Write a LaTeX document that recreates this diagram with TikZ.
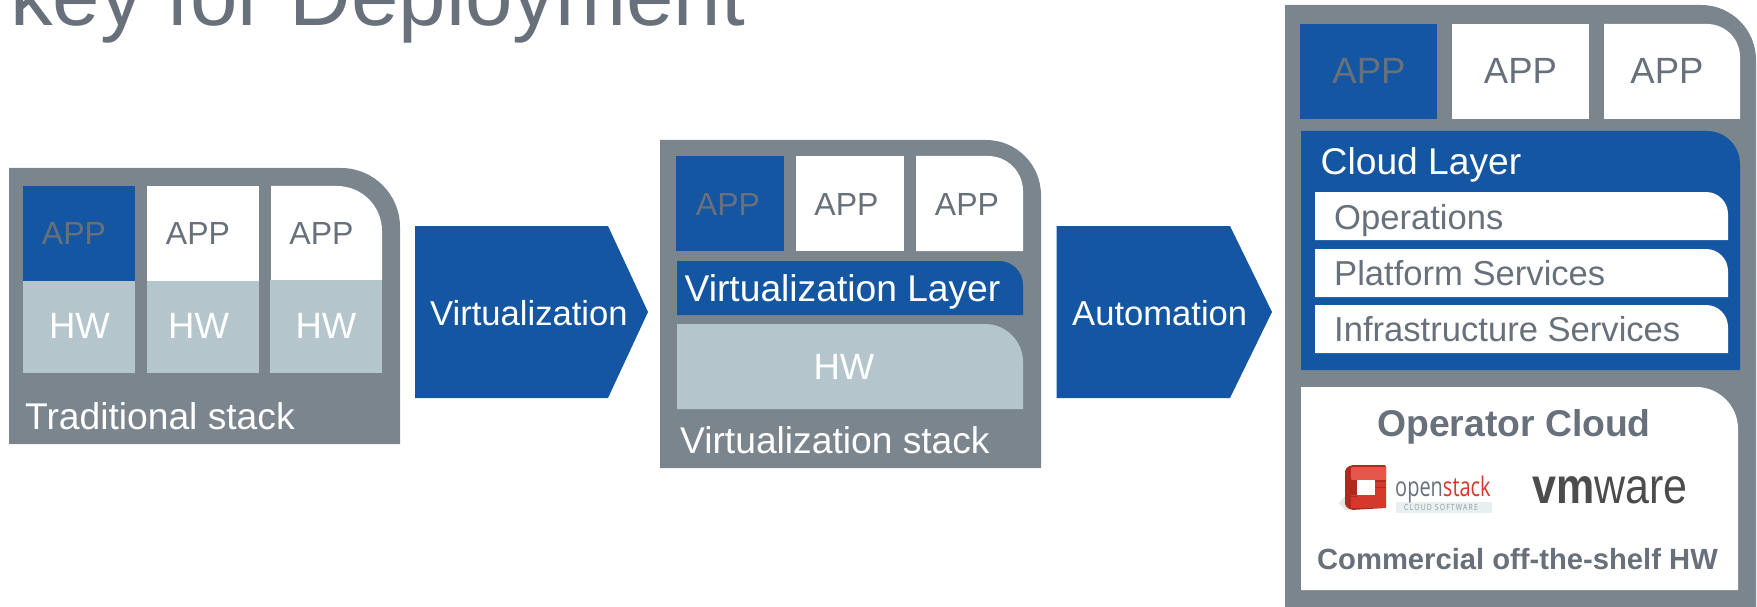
\documentclass[tikz,border=0pt]{standalone}
\usepackage{fontspec}
\setmainfont{Liberation Sans}
\newfontfamily\logofont[FakeStretch=0.74]{Open Sans}
\newfontfamily\tinyfont[FakeStretch=0.8,LetterSpace=14]{Open Sans}
\newfontfamily\wmfont[FakeStretch=0.86]{Liberation Sans}
\definecolor{stackgray}{HTML}{7B858D}
\definecolor{layerblue}{HTML}{1556A2}
\definecolor{hwgray}{HTML}{B4C6CC}
\definecolor{textgray}{HTML}{68717B}
\definecolor{osred}{HTML}{D5392B}
\definecolor{osdark}{HTML}{AE2A1E}
\definecolor{oslight}{HTML}{E4574A}
\definecolor{osstrip}{HTML}{E8EFF1}
\begin{document}
\begin{tikzpicture}[x=1pt,y=-1pt]
\tikzset{label/.style = {anchor=base west,inner sep=0pt,font=\fontsize{37.2}{40}\selectfont}}
\tikzset{white label/.style = {label,text=white}}
\tikzset{gray label/.style = {label,text=textgray,font=\fontsize{34.6}{40}\selectfont}}
\tikzset{app label/.style = {anchor=base,inner sep=0pt,text=textgray,font=\fontsize{32}{40}\selectfont}}
\tikzset{hw label/.style = {anchor=base,inner sep=0pt,text=white,font=\fontsize{36.5}{40}\selectfont}}
\tikzset{bold label/.style = {anchor=base,inner sep=0pt,text=textgray,font=\bfseries\fontsize{37.3}{40}\selectfont}}
\useasboundingbox (0,0) rectangle (1757,607);
\clip (0,0) rectangle (1757,607);
% title
\node[anchor=base west,inner sep=0pt,text=textgray,font=\fontsize{85.3}{90}\selectfont] (title) at (10,26) {key for Deployment};
% traditional stack
\fill[stackgray] (9,444) -- (9,168) [rounded corners=59pt] -- (400,168) [sharp corners] -- (400,444) -- cycle;
\fill[layerblue] (23,186) rectangle (135,281);
\fill[white] (147,186) rectangle (259,281);
\fill[white] (271,280) -- (271,186) [rounded corners=45pt] -- (382,186) [sharp corners] -- (382,280) -- cycle;
\fill[hwgray] (23,281) rectangle (135,373);
\fill[hwgray] (147,281) rectangle (259,373);
\fill[hwgray] (270,280) rectangle (382,373);
\node[app label] (tapp1) at (74,244) {APP};
\node[app label] (tapp2) at (198,244) {APP};
\node[app label] (tapp3) at (321.5,244) {APP};
\node[hw label] (thw1) at (79.5,338) {HW};
\node[hw label] (thw2) at (198.6,338) {HW};
\node[hw label] (thw3) at (326,338) {HW};
\node[white label] (tstack) at (25,429) {Traditional stack};
% first arrow
\fill[layerblue] (415,226) -- (608,226) -- (648,312) -- (608,398) -- (415,398) -- cycle;
\node[white label,font=\fontsize{34.6}{40}\selectfont] (virt) at (430,325) {Virtualization};
% virtualization stack
\fill[stackgray] (660,468) -- (660,140) [rounded corners=55pt] -- (1041,140) [sharp corners] -- (1041,468) -- cycle;
\fill[layerblue] (676,156) rectangle (784,251);
\fill[white] (796,156) rectangle (904,251);
\fill[white] (916,251) -- (916,156) [rounded corners=35pt] -- (1023,156) [sharp corners] -- (1023,251) -- cycle;
\fill[layerblue] (677,315) -- (677,261) [rounded corners=24pt] -- (1023,261) [sharp corners] -- (1023,315) -- cycle;
\fill[hwgray] (677,409) -- (677,324) [rounded corners=38pt] -- (1023,324) [sharp corners] -- (1023,409) -- cycle;
\node[app label] (vapp1) at (728,215) {APP};
\node[app label] (vapp2) at (846.5,215) {APP};
\node[app label] (vapp3) at (967,215) {APP};
\node[white label] (vlayer) at (684.5,301) {Virtualization Layer};
\node[hw label] (vhw) at (844,379) {HW};
\node[white label] (vstack) at (680,453) {Virtualization stack};
% second arrow
\fill[layerblue] (1056.5,226) -- (1230,226) -- (1272,312) -- (1230,398) -- (1056.5,398) -- cycle;
\node[white label,font=\fontsize{34.6}{40}\selectfont] (auto) at (1072,325) {Automation};
% cloud stack
\fill[stackgray] (1285,607) -- (1285,5) [rounded corners=55pt] -- (1756,5) [sharp corners] -- (1756,607) -- cycle;
\fill[layerblue] (1300,24) rectangle (1437,119);
\fill[white] (1452,24) rectangle (1589,119);
\fill[white] (1604,119) -- (1604,24) [rounded corners=33pt] -- (1740,24) [sharp corners] -- (1740,119) -- cycle;
\node[app label,font=\fontsize{36.5}{40}\selectfont] (capp1) at (1369,84) {APP};
\node[app label,font=\fontsize{36.5}{40}\selectfont] (capp2) at (1520.5,84) {APP};
\node[app label,font=\fontsize{36.5}{40}\selectfont] (capp3) at (1667,84) {APP};
\fill[layerblue] (1301,370) -- (1301,131) [rounded corners=33pt] -- (1740,131) [sharp corners] -- (1740,370) -- cycle;
\node[white label] (clayer) at (1320.5,175) {Cloud Layer};
\fill[white] (1315,240) -- (1315,192) [rounded corners=22pt] -- (1728,192) [sharp corners] -- (1728,240) -- cycle;
\fill[white] (1315,297) -- (1315,249) [rounded corners=22pt] -- (1728,249) [sharp corners] -- (1728,297) -- cycle;
\fill[white] (1315,353) -- (1315,305) [rounded corners=22pt] -- (1728,305) [sharp corners] -- (1728,353) -- cycle;
\node[gray label] (ops) at (1334,229) {Operations};
\node[gray label] (plat) at (1334,285) {Platform Services};
\node[gray label] (infra) at (1334,341) {Infrastructure Services};
% operator cloud
\fill[white] (1301,590) -- (1301,387) [rounded corners=42pt] -- (1738,387) [sharp corners] -- (1738,590) -- cycle;
\node[bold label] (opcloud) at (1514,436) {Operator Cloud};
\node[bold label,font=\bfseries\fontsize{29.2}{32}\selectfont] (cots) at (1517.5,569) {Commercial off-the-shelf HW};
% openstack logo
\fill[black!10] (1339,503) -- (1345,496) -- (1351,510) -- (1345,510) -- cycle;
\fill[osdark,rounded corners=2pt] (1345,469) -- (1351,465) -- (1386,465) -- (1386,508) -- (1351,510) -- (1345,506) -- cycle;
\fill[oslight,rounded corners=1pt] (1351,467) rectangle (1386,480);
\fill[osred] (1351,480) rectangle (1386,508);
\fill[osdark] (1351,480) rectangle (1357,495);
\fill[white] (1357,480) rectangle (1375,495);
\fill[osdark] (1375,480) rectangle (1386,482);
\draw[osdark,line width=0.8pt] (1345,485) -- (1351,485) (1345,496) -- (1357,496) (1375,487) -- (1386,487);
\fill[osstrip] (1396,502) rectangle (1492,513);
\node[anchor=base west,inner sep=0pt,font=\logofont\fontsize{27}{29}\selectfont] (oslogo) at (1395,496) {\textcolor{textgray}{open}\textcolor{osred}{stack}};
\node[anchor=center,inner sep=0pt,text=textgray!70,font=\tinyfont\fontsize{8.5}{10}\selectfont] (ossoft) at (1441,507.5) {CLOUD SOFTWARE};
% vmware logo
\node[anchor=base west,inner sep=0pt,text=black!70,font=\wmfont\fontsize{50}{52}\selectfont] (vmlogo) at (1532,503) {\textbf{vm}ware};
\end{tikzpicture}
\end{document}
